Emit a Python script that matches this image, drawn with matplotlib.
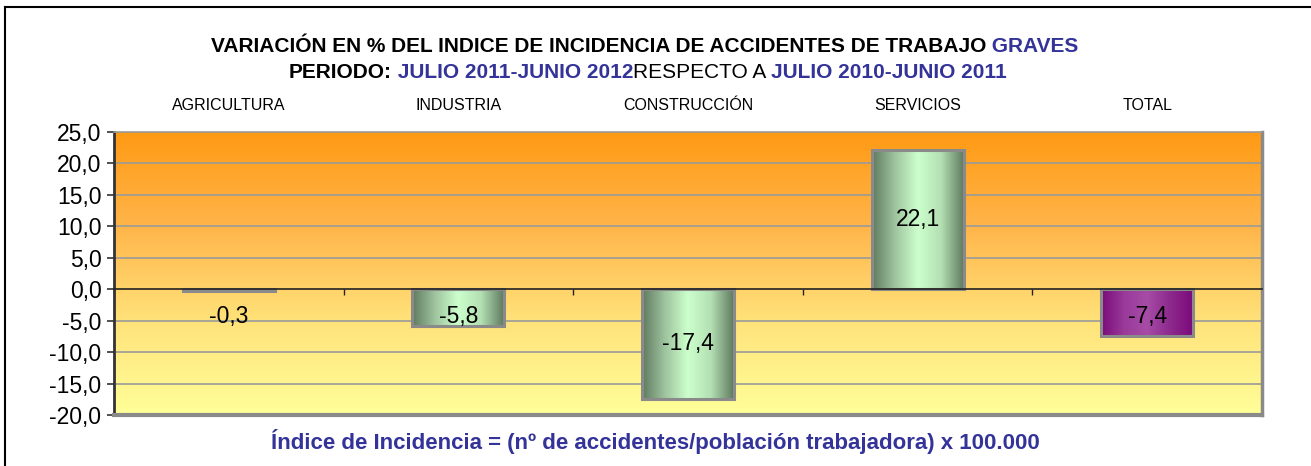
import numpy as np
import matplotlib
matplotlib.use("Agg")
import matplotlib.pyplot as plt
from matplotlib.colors import LinearSegmentedColormap
from matplotlib.transforms import blended_transform_factory
from matplotlib.lines import Line2D

plt.rcParams['font.family'] = ['Liberation Sans', 'DejaVu Sans']

# ---- data ----
categories = ["AGRICULTURA", "INDUSTRIA", "CONSTRUCCIÓN", "SERVICIOS", "TOTAL"]
values = [-0.3, -5.8, -17.4, 22.1, -7.4]
value_labels = ["-0,3", "-5,8", "-17,4", "22,1", "-7,4"]
yticks = [-20, -15, -10, -5, 0, 5, 10, 15, 20, 25]
ytick_labels = ["-20,0", "-15,0", "-10,0", "-5,0", "0,0", "5,0", "10,0", "15,0", "20,0", "25,0"]

BLUE = "#333399"

W, H = 1311, 466
fig = plt.figure(figsize=(W / 100, H / 100), dpi=100)
ax = fig.add_axes([114 / W, 1 - 415 / H, (1262 - 114) / W, (415 - 132) / H])

x = np.arange(len(categories))
ax.set_xlim(-0.5, len(categories) - 0.5)
ax.set_ylim(-20, 25)

# background gradient
bg = LinearSegmentedColormap.from_list("bg", ["#FFFF99", "#FFE27A", "#FFB54A", "#FF9A14"])
grad = np.linspace(0, 1, 256).reshape(-1, 1)
ax.imshow(grad, cmap=bg, aspect="auto", origin="lower",
          extent=[-0.5, len(categories) - 0.5, -20, 25], zorder=0)

# grid
for t in yticks:
    if t not in (0, -20, 25):
        ax.axhline(t, color="#9a9a9a", lw=1.2, zorder=1)

# bars
green = LinearSegmentedColormap.from_list("g", ["#5F7A5F", "#9FC49F", "#CCFFCC", "#B4E0B4", "#5F7A5F"])
purple = LinearSegmentedColormap.from_list("p", ["#7A0A7A", "#9A3A9A", "#A64CA6", "#8E2A8E", "#7A0A7A"])
bars = ax.bar(x, values, width=0.4, facecolor="none", edgecolor="#8a8a8a", lw=2.2, zorder=4)
hg = np.linspace(0, 1, 256).reshape(1, -1)
for i, b in enumerate(bars):
    cm = purple if categories[i] == "TOTAL" else green
    x0 = b.get_x()
    im = ax.imshow(hg, cmap=cm, aspect="auto",
                   extent=[x0, x0 + b.get_width(), min(0, values[i]), max(0, values[i])], zorder=3)
    im.set_clip_path(b)

ax.set_xlim(-0.5, len(categories) - 0.5)
ax.set_ylim(-20, 25)

# value labels
for i, v in enumerate(values):
    ypos = v / 2 if v > 0 else min(v / 2, -4.4)
    ax.text(x[i], ypos, value_labels[i], ha="center", va="center", fontsize=16.5, zorder=6)

# axes styling
ax.spines["bottom"].set_position(("data", 0))
ax.spines["bottom"].set_color("#222222")
ax.spines["bottom"].set_linewidth(1.2)
ax.spines["bottom"].set_zorder(5)
ax.spines["left"].set_color("#333333")
ax.spines["left"].set_linewidth(2)
ax.spines["right"].set_color("#8a8a8a")
ax.spines["right"].set_linewidth(2.5)
ax.spines["top"].set_color("#9a9a9a")
ax.spines["top"].set_linewidth(1.2)
ax.axhline(-20, color="#8a8a8a", lw=3, zorder=5, clip_on=False)

ax.set_xticks(np.arange(-0.5, len(categories), 1.0))
ax.set_xticklabels([])
ax.tick_params(axis="x", direction="out", length=4, width=1, color="#222222")
ax.set_yticks(yticks)
ax.set_yticklabels(ytick_labels, fontsize=16.5)
ax.tick_params(axis="y", direction="out", length=5, width=1.2, color="#333333", pad=4)

tr = blended_transform_factory(ax.transData, ax.transAxes)
for i, c in enumerate(categories):
    ax.text(x[i], 1 + 27 / 283, c, transform=tr, ha="center", va="center", fontsize=11.5)

# multi-colour title rows
renderer = fig.canvas.get_renderer()


def row(pieces, cx, cy, size):
    texts = []
    for s, col, wt in pieces:
        t = fig.text(0, cy / H, s, color=col, fontweight=wt, fontsize=size,
                     va="center", ha="left", transform=fig.transFigure)
        texts.append(t)
    widths = [t.get_window_extent(renderer).width for t in texts]
    total = sum(widths)
    cur = cx - total / 2
    for t, w in zip(texts, widths):
        t.set_x(cur / W)
        cur += w


row([("VARIACIÓN EN % DEL INDICE DE INCIDENCIA DE ACCIDENTES DE TRABAJO", "black", "bold"),
     (" GRAVES", BLUE, "bold")], 645, H - 46, 15)
row([("PERIODO:", "black", "bold"),
     (" JULIO 2011-JUNIO 2012", BLUE, "bold"),
     ("RESPECTO A ", "black", "normal"),
     ("JULIO 2010-JUNIO 2011", BLUE, "bold")], 648, H - 73, 15)

fig.text(655 / W, 1 - 441 / H,
         "Índice de Incidencia = (nº de accidentes/población trabajadora) x 100.000",
         color=BLUE, fontweight="bold", fontsize=16, ha="center", va="center")

# outer frame (top and left)
fig.add_artist(Line2D([5 / W, 1], [1 - 7 / H, 1 - 7 / H], color="black", lw=1.5, transform=fig.transFigure))
fig.add_artist(Line2D([5 / W, 5 / W], [0, 1 - 7 / H], color="black", lw=1.5, transform=fig.transFigure))

fig.savefig("out.png", dpi=100)
